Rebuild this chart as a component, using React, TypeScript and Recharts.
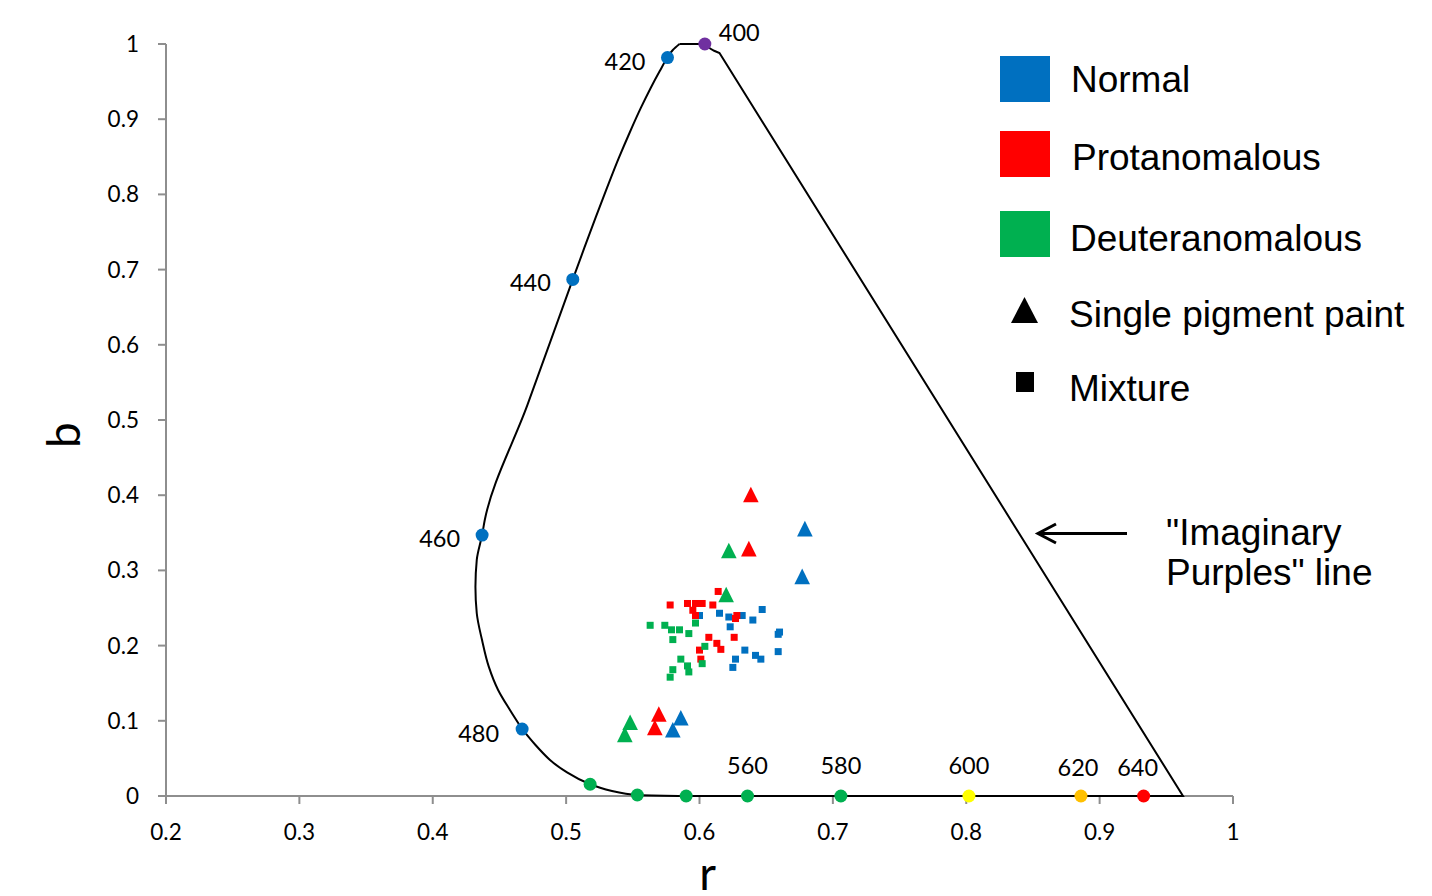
import React from "react";
import { ScatterChart, Scatter, XAxis, YAxis, Label } from "recharts";

// ---------- axis ticks ----------
const xTicks = [0.2, 0.3, 0.4, 0.5, 0.6, 0.7, 0.8, 0.9, 1];
const yTicks = [0, 0.1, 0.2, 0.3, 0.4, 0.5, 0.6, 0.7, 0.8, 0.9, 1];

// ---------- spectral locus (r, b) ----------
// left branch, from the top near 410 nm down to 480 nm
const locusUpper = [
  { r: 0.585, b: 1.0 },
  { r: 0.58, b: 0.992 },
  { r: 0.576, b: 0.982 },
  { r: 0.5702, b: 0.9641 },
  { r: 0.5635, b: 0.9419 },
  { r: 0.5561, b: 0.9153 },
  { r: 0.5476, b: 0.882 },
  { r: 0.5396, b: 0.8488 },
  { r: 0.5307, b: 0.8089 },
  { r: 0.5221, b: 0.769 },
  { r: 0.5137, b: 0.7291 },
  { r: 0.505, b: 0.687 },
  { r: 0.471, b: 0.52 },
  { r: 0.439, b: 0.367 },
  { r: 0.437, b: 0.347 },
  { r: 0.433, b: 0.314 },
  { r: 0.432, b: 0.278 },
  { r: 0.433, b: 0.243 },
  { r: 0.437, b: 0.207 },
  { r: 0.442, b: 0.172 },
  { r: 0.449, b: 0.141 },
  { r: 0.458, b: 0.114 },
  { r: 0.467, b: 0.089 },
];
// lower bend, 480 nm to 540 nm
const locusLower = [
  { r: 0.467, b: 0.089 },
  { r: 0.4767, b: 0.0685 },
  { r: 0.4879, b: 0.0479 },
  { r: 0.5007, b: 0.0313 },
  { r: 0.518, b: 0.0156 },
  { r: 0.5344, b: 0.0066 },
  { r: 0.5534, b: 0.0013 },
  { r: 0.59, b: 0 },
];
// straight part: spectrum floor, "imaginary purples" line, top near 400 nm
const locusStraight = [
  { r: 0.59, b: 0 },
  { r: 0.9625, b: 0 },
  { r: 0.615, b: 0.988 },
  { r: 0.611, b: 0.991 },
  { r: 0.608, b: 0.994 },
  { r: 0.604, b: 1.0 },
  { r: 0.594, b: 1.0 },
  { r: 0.585, b: 1.0 },
];

// ---------- wavelength markers on the locus ----------
const wavelengthMarkers = [
  { wl: "400", r: 0.604, b: 1.0 },
  { wl: "420", r: 0.576, b: 0.982 },
  { wl: "440", r: 0.505, b: 0.687 },
  { wl: "460", r: 0.437, b: 0.347 },
  { wl: "480", r: 0.467, b: 0.089 },
  { wl: "500", r: 0.518, b: 0.0156 },
  { wl: "520", r: 0.5534, b: 0.0013 },
  { wl: "540", r: 0.59, b: 0 },
  { wl: "560", r: 0.636, b: 0 },
  { wl: "580", r: 0.706, b: 0 },
  { wl: "600", r: 0.802, b: 0 },
  { wl: "620", r: 0.886, b: 0 },
  { wl: "640", r: 0.933, b: 0 },
];
const labelledWavelengths = ["400", "420", "440", "460", "480", "560", "580", "600", "620", "640"];

// ---------- observations ----------
const normalSingle = [
  { r: 0.679, b: 0.3555 },
  { r: 0.677, b: 0.292 },
  { r: 0.586, b: 0.104 },
  { r: 0.58, b: 0.088 },
];
const protanSingle = [
  { r: 0.6385, b: 0.401 },
  { r: 0.637, b: 0.329 },
  { r: 0.5695, b: 0.109 },
  { r: 0.5665, b: 0.091 },
];
const deutanSingle = [
  { r: 0.622, b: 0.3265 },
  { r: 0.62, b: 0.268 },
  { r: 0.548, b: 0.098 },
  { r: 0.544, b: 0.082 },
];
const normalMixture = [
  { r: 0.6, b: 0.24 },
  { r: 0.615, b: 0.243 },
  { r: 0.622, b: 0.238 },
  { r: 0.632, b: 0.24 },
  { r: 0.623, b: 0.225 },
  { r: 0.64, b: 0.234 },
  { r: 0.647, b: 0.248 },
  { r: 0.66, b: 0.218 },
  { r: 0.659, b: 0.215 },
  { r: 0.634, b: 0.194 },
  { r: 0.642, b: 0.187 },
  { r: 0.646, b: 0.182 },
  { r: 0.659, b: 0.192 },
  { r: 0.627, b: 0.182 },
  { r: 0.625, b: 0.171 },
];
const protanMixture = [
  { r: 0.614, b: 0.272 },
  { r: 0.578, b: 0.254 },
  { r: 0.591, b: 0.256 },
  { r: 0.597, b: 0.256 },
  { r: 0.602, b: 0.256 },
  { r: 0.595, b: 0.247 },
  { r: 0.597, b: 0.24 },
  { r: 0.61, b: 0.254 },
  { r: 0.628, b: 0.24 },
  { r: 0.627, b: 0.236 },
  { r: 0.607, b: 0.211 },
  { r: 0.626, b: 0.211 },
  { r: 0.613, b: 0.203 },
  { r: 0.616, b: 0.195 },
  { r: 0.6, b: 0.194 },
  { r: 0.601, b: 0.182 },
];
const deutanMixture = [
  { r: 0.563, b: 0.227 },
  { r: 0.574, b: 0.227 },
  { r: 0.579, b: 0.221 },
  { r: 0.585, b: 0.221 },
  { r: 0.592, b: 0.216 },
  { r: 0.58, b: 0.208 },
  { r: 0.597, b: 0.23 },
  { r: 0.604, b: 0.199 },
  { r: 0.602, b: 0.176 },
  { r: 0.586, b: 0.182 },
  { r: 0.591, b: 0.173 },
  { r: 0.592, b: 0.165 },
  { r: 0.58, b: 0.168 },
  { r: 0.578, b: 0.158 },
];

// ---------- legend text ----------
const groupNames = ["Normal", "Protanomalous", "Deuteranomalous"];
const markerNames = ["Single pigment paint", "Mixture"];
const annotationLines = ['"Imaginary', 'Purples" line'];

// ---------- styles ----------
const BLUE = "#0070C0";
const RED = "#FF0000";
const GREEN = "#00B050";
const groupColors = [BLUE, RED, GREEN];
const markerColor: Record<string, string> = {
  "400": "#7030A0",
  "420": BLUE,
  "440": BLUE,
  "460": BLUE,
  "480": BLUE,
  "500": GREEN,
  "520": GREEN,
  "540": GREEN,
  "560": GREEN,
  "580": GREEN,
  "600": "#FFFF00",
  "620": "#FFC000",
  "640": RED,
};
const labelOffset: Record<string, { dx: number; dy: number; anchor: "start" | "middle" | "end" }> = {
  "400": { dx: 14, dy: -3, anchor: "start" },
  "420": { dx: -22, dy: 12, anchor: "end" },
  "440": { dx: -22, dy: 12, anchor: "end" },
  "460": { dx: -22, dy: 12, anchor: "end" },
  "480": { dx: -23, dy: 13, anchor: "end" },
  "560": { dx: 0, dy: -22, anchor: "middle" },
  "580": { dx: 0, dy: -22, anchor: "middle" },
  "600": { dx: 0, dy: -22, anchor: "middle" },
  "620": { dx: -3, dy: -20, anchor: "middle" },
  "640": { dx: -6, dy: -20, anchor: "middle" },
};

const CAL = "Lato, 'Open Sans', sans-serif";
const ARIAL = "'Liberation Sans', Arial, sans-serif";
const AXIS_GRAY = "#8E8E8E";
const LEGEND_FS = 37;

const triangleShape = (color: string) => (p: any) => (
  <polygon
    points={`${p.cx},${p.cy - 7.8} ${p.cx - 7.8},${p.cy + 7.8} ${p.cx + 7.8},${p.cy + 7.8}`}
    fill={color}
  />
);
const squareShape = (color: string) => (p: any) => (
  <rect x={p.cx - 3.5} y={p.cy - 3.5} width={7} height={7} fill={color} />
);
const markerShape = (p: any) => {
  const wl = p.payload?.wl as string;
  const off = labelOffset[wl];
  return (
    <g>
      <circle cx={p.cx} cy={p.cy} r={6.5} fill={markerColor[wl]} />
      {labelledWavelengths.includes(wl) && off ? (
        <text
          x={p.cx + off.dx}
          y={p.cy + off.dy}
          textAnchor={off.anchor}
          fontFamily={CAL}
          fontSize={23.5}
          fill="#000"
        >
          {wl}
        </text>
      ) : null}
    </g>
  );
};
const hiddenShape = () => <g />;

const YLabel = (props: any) => {
  const vb = props.viewBox || { x: 106, y: 44, width: 60, height: 752 };
  const cx = vb.x - 44;
  const cy = vb.y + vb.height / 2 + 15;
  return (
    <text
      x={cx}
      y={cy}
      transform={`rotate(-90, ${cx}, ${cy})`}
      textAnchor="middle"
      dominantBaseline="central"
      fontFamily={CAL}
      fontSize={46}
      fill="#000"
    >
      b
    </text>
  );
};
const XLabel = (props: any) => {
  const vb = props.viewBox || { x: 166, y: 796, width: 1067, height: 60 };
  return (
    <text
      x={vb.x + vb.width / 2 + 8}
      y={vb.y + 94}
      textAnchor="middle"
      fontFamily={CAL}
      fontSize={46}
      fill="#000"
    >
      r
    </text>
  );
};

const tickStyle = { fill: "#000", fontSize: 22.5, fontFamily: CAL };
const curveLine = { stroke: "#000", strokeWidth: 2 };

export default function App() {
  return (
    <div style={{ position: "absolute", left: 0, top: 0, width: 1432, height: 896, background: "#fff" }}>
      <ScatterChart
        width={1432}
        height={896}
        margin={{ top: 44, right: 199, bottom: 40, left: 106 }}
      >
        <XAxis
          type="number"
          dataKey="r"
          domain={[0.2, 1]}
          ticks={xTicks}
          interval={0}
          height={60}
          tickSize={8}
          tickMargin={20}
          axisLine={{ stroke: AXIS_GRAY, strokeWidth: 2 }}
          tickLine={{ stroke: AXIS_GRAY, strokeWidth: 2 }}
          tick={tickStyle}
          tickFormatter={(v: number) => String(v)}
        >
          <Label content={XLabel} />
        </XAxis>
        <YAxis
          type="number"
          dataKey="b"
          domain={[0, 1]}
          ticks={yTicks}
          interval={0}
          width={60}
          tickSize={8}
          tickMargin={19}
          axisLine={{ stroke: AXIS_GRAY, strokeWidth: 2 }}
          tickLine={{ stroke: AXIS_GRAY, strokeWidth: 2 }}
          tick={tickStyle}
          tickFormatter={(v: number) => String(v)}
        >
          <Label content={YLabel} />
        </YAxis>

        <Scatter
          data={locusUpper}
          line={curveLine}
          lineType="joint"
          lineJointType="monotoneY"
          shape={hiddenShape}
          isAnimationActive={false}
          legendType="none"
        />
        <Scatter
          data={locusLower}
          line={curveLine}
          lineType="joint"
          lineJointType="monotoneX"
          shape={hiddenShape}
          isAnimationActive={false}
          legendType="none"
        />
        <Scatter
          data={locusStraight}
          line={curveLine}
          lineType="joint"
          lineJointType="linear"
          shape={hiddenShape}
          isAnimationActive={false}
          legendType="none"
        />
        <Scatter data={wavelengthMarkers} shape={markerShape} isAnimationActive={false} legendType="none" />

        <Scatter data={normalMixture} shape={squareShape(BLUE)} isAnimationActive={false} />
        <Scatter data={protanMixture} shape={squareShape(RED)} isAnimationActive={false} />
        <Scatter data={deutanMixture} shape={squareShape(GREEN)} isAnimationActive={false} />
        <Scatter data={normalSingle} shape={triangleShape(BLUE)} isAnimationActive={false} />
        <Scatter data={protanSingle} shape={triangleShape(RED)} isAnimationActive={false} />
        <Scatter data={deutanSingle} shape={triangleShape(GREEN)} isAnimationActive={false} />
      </ScatterChart>

      <svg
        width={1432}
        height={896}
        style={{ position: "absolute", left: 0, top: 0, pointerEvents: "none" }}
      >
        {groupNames.map((name, i) => (
          <g key={name}>
            <rect x={1000} y={[56, 131, 211][i]} width={50} height={46} fill={groupColors[i]} />
            <text x={[1071, 1072, 1070][i]} y={[92, 170, 251][i]} fontFamily={ARIAL} fontSize={LEGEND_FS} fill="#000">
              {name}
            </text>
          </g>
        ))}
        <polygon points="1024.5,297 1011,323 1038,323" fill="#000" />
        <text x={1069} y={327} fontFamily={ARIAL} fontSize={LEGEND_FS} fill="#000">
          {markerNames[0]}
        </text>
        <rect x={1016} y={372} width={18} height={20} fill="#000" />
        <text x={1069} y={401} fontFamily={ARIAL} fontSize={LEGEND_FS} fill="#000">
          {markerNames[1]}
        </text>

        <line x1={1127} y1={533.5} x2={1038} y2={533.5} stroke="#000" strokeWidth={3} />
        <polyline points="1056,524 1038,533.5 1056,543" fill="none" stroke="#000" strokeWidth={3} />
        {annotationLines.map((t, i) => (
          <text key={t} x={1166} y={545 + i * 40} fontFamily={ARIAL} fontSize={LEGEND_FS} fill="#000">
            {t}
          </text>
        ))}
      </svg>
    </div>
  );
}
